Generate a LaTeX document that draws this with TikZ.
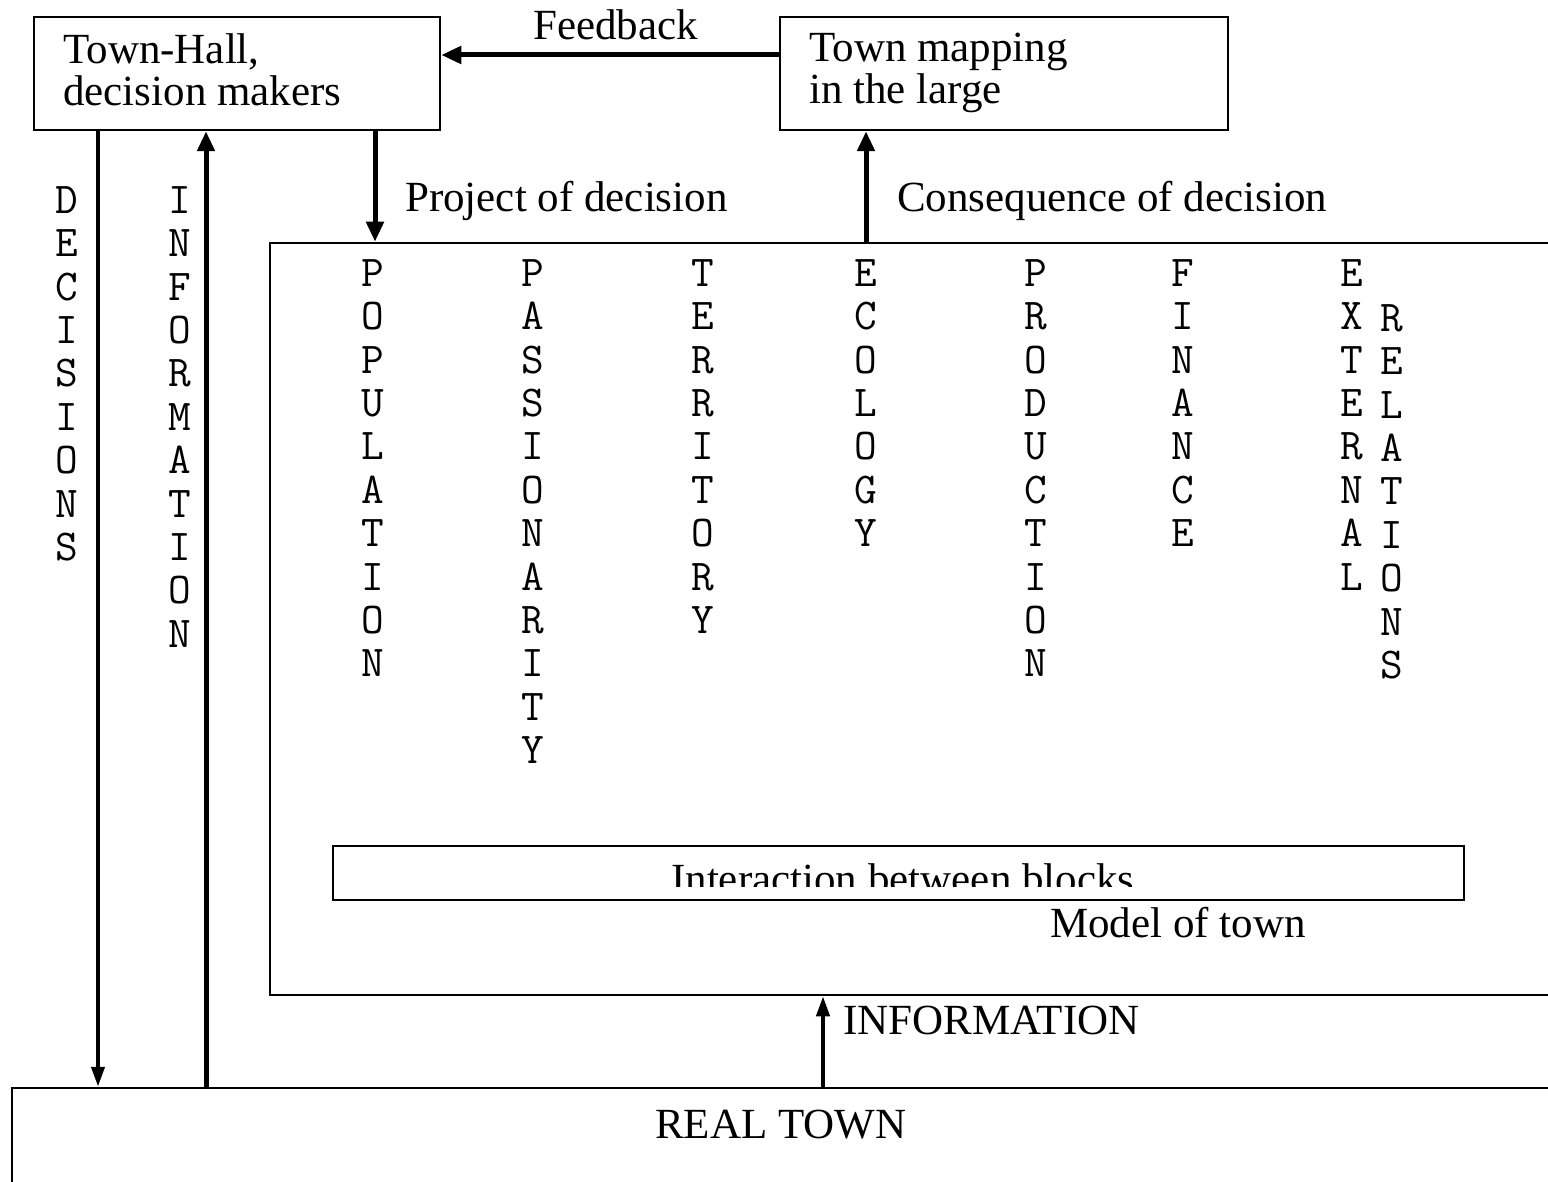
\documentclass[tikz,border=0pt]{standalone}
\usepackage{fontspec}
\setmainfont{Liberation Serif}
\usetikzlibrary{arrows.meta}
\begin{document}
\begin{tikzpicture}[x=1pt,y=-1pt,
  box/.style={draw, line width=2.5pt, inner sep=0pt},
  lbl/.style={font=\fontsize{43}{40}\selectfont, inner sep=0pt, anchor=base west},
  btxt/.style={font=\fontsize{43}{42}\selectfont, inner sep=0pt, anchor=north west, align=left},
  arr/.style={line width=5pt, -{Triangle[length=20pt,width=17pt]}},
  arrs/.style={line width=4pt, -{Triangle[length=20pt,width=13pt]}},
  col/.style={font=\fontsize{44}{43.35}\selectfont\ttfamily, align=center, inner sep=0pt, anchor=north}]
\useasboundingbox (0,0) rectangle (1548,1182);
\fill[white] (0,0) rectangle (1548,1182);

% boxes
\node[box, minimum width=406pt, minimum height=113pt] (th) at (237,73.5) {};
\node[btxt] (thl) at (63,33.5) {Town-Hall,\\decision makers};
\node[box, minimum width=448pt, minimum height=113pt] (tm) at (1004,73.5) {};
\node[btxt] (tml) at (809,32.5) {Town mapping\\in the large};
\node[box, minimum width=1290pt, minimum height=752pt] (model) at (915,619) {};
\node[box, minimum width=1131pt, minimum height=54pt] (inter) at (898.5,873) {};
\node[box, minimum width=1548pt, minimum height=162pt] (rt) at (786,1169) {};

% labels
\node[lbl] (fbl) at (533,40) {Feedback};
\node[lbl] (pdl) at (405,212) {Project of decision};
\node[lbl] (cdl) at (897,212) {Consequence of decision};
\begin{scope}
  \clip (335,848) rectangle (1462,886);
  \node[lbl] (intl) at (671,893) {Interaction between blocks};
\end{scope}
\node[lbl] (mot) at (1050,937) {Model of town};
\node[lbl] (infl) at (843,1034) {INFORMATION};
\node[lbl] (rtl) at (655,1138) {REAL TOWN};

% vertical words
\node[col] (cdec) at (67,186.5) {D\\E\\C\\I\\S\\I\\O\\N\\S};
\node[col] (cinf) at (180,186.5) {I\\N\\F\\O\\R\\M\\A\\T\\I\\O\\N};
\node[col] (cpop) at (373,259.5) {P\\O\\P\\U\\L\\A\\T\\I\\O\\N};
\node[col] (cpas) at (533,259.5) {P\\A\\S\\S\\I\\O\\N\\A\\R\\I\\T\\Y};
\node[col] (cter) at (703,259.5) {T\\E\\R\\R\\I\\T\\O\\R\\Y};
\node[col] (ceco) at (866,259.5) {E\\C\\O\\L\\O\\G\\Y};
\node[col] (cpro) at (1036,259.5) {P\\R\\O\\D\\U\\C\\T\\I\\O\\N};
\node[col] (cfin) at (1183,259.5) {F\\I\\N\\A\\N\\C\\E};
\node[col] (cext) at (1352,259.5) {E\\X\\T\\E\\R\\N\\A\\L};
\node[col] (crel) at (1392,304.5) {R\\E\\L\\A\\T\\I\\O\\N\\S};

% connectors
\coordinate (fby) at (0,55);
\coordinate (xdec) at (98,0);
\coordinate (xinf) at (206,0);
\coordinate (xproj) at (375,0);
\coordinate (xcons) at (866,0);
\coordinate (xinfo) at (823,0);
\draw[arr] (tm.west |- fby) -- (th.east |- fby);
\draw[arrs] (th.south -| xdec) -- (rt.north -| xdec);
\draw[arr] (rt.north -| xinf) -- (th.south -| xinf);
\draw[arr] (th.south -| xproj) -- (model.north -| xproj);
\draw[arr] (model.north -| xcons) -- (tm.south -| xcons);
\draw[arrs] (rt.north -| xinfo) -- (model.south -| xinfo);
\end{tikzpicture}
\end{document}
